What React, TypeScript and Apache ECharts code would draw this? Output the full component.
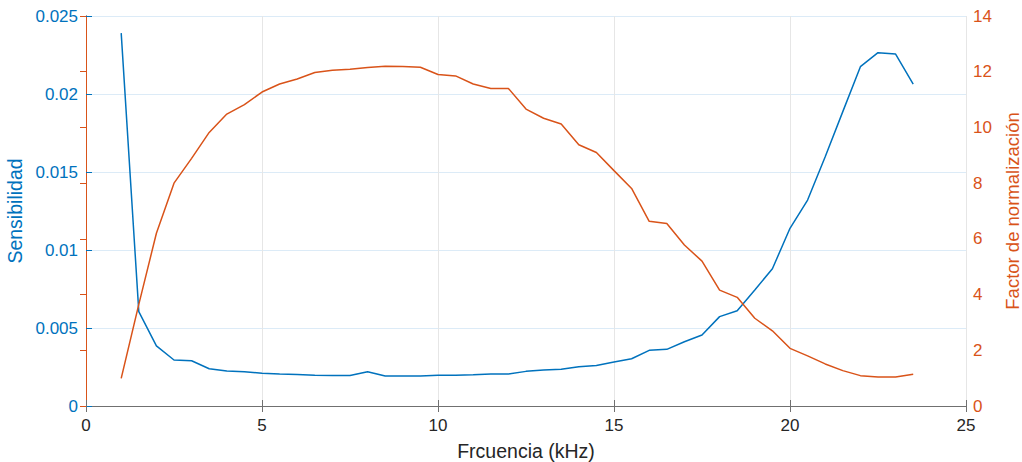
import React, { useEffect, useRef } from "react";
import * as echarts from "echarts";

const freq = [1, 1.5, 2, 2.5, 3, 3.5, 4, 4.5, 5, 5.5, 6, 6.5, 7, 7.5, 8, 8.5, 9, 9.5, 10, 10.5, 11, 11.5, 12, 12.5, 13, 13.5, 14, 14.5, 15, 15.5, 16, 16.5, 17, 17.5, 18, 18.5, 19, 19.5, 20, 20.5, 21, 21.5, 22, 22.5, 23, 23.5];

const sensibilidad = [0.0239, 0.00605, 0.00385, 0.00295, 0.0029, 0.00239, 0.00224, 0.0022, 0.0021, 0.00205, 0.00202, 0.00197, 0.00196, 0.00195, 0.0022, 0.00192, 0.00192, 0.00192, 0.00197, 0.00197, 0.002, 0.00205, 0.00205, 0.00222, 0.0023, 0.00235, 0.00252, 0.0026, 0.00282, 0.00303, 0.00357, 0.00363, 0.00412, 0.00455, 0.00573, 0.00611, 0.00744, 0.0088, 0.01139, 0.0132, 0.01598, 0.01887, 0.02175, 0.02265, 0.02256, 0.02064];

const factor = [0.99, 3.65, 6.2, 8.0, 8.89, 9.82, 10.48, 10.82, 11.27, 11.56, 11.74, 11.97, 12.05, 12.09, 12.15, 12.2, 12.19, 12.16, 11.9, 11.85, 11.56, 11.4, 11.4, 10.66, 10.33, 10.12, 9.38, 9.1, 8.45, 7.81, 6.63, 6.55, 5.78, 5.2, 4.16, 3.9, 3.15, 2.7, 2.07, 1.8, 1.51, 1.27, 1.09, 1.04, 1.04, 1.14];

const xTitle = "Frcuencia (kHz)";
const yLeftTitle = "Sensibilidad";
const yRightTitle = "Factor de normalización";

const BLUE = "#0072BD";
const ORANGE = "#D95319";
const FONT = "Liberation Sans";
const TICK_FS = 17;
const TITLE_FS = 19.5;

export default function App() {
  const ref = useRef<HTMLDivElement>(null);
  useEffect(() => {
    if (!ref.current) return;
    const chart = echarts.init(ref.current, null, { renderer: "svg" });
    chart.setOption({
      animation: false,
      backgroundColor: "#ffffff",
      grid: { left: 86, right: 56, top: 16, bottom: 56, containLabel: false, outerBoundsMode: "none" },
      xAxis: [
        {
          type: "value",
          min: 0,
          max: 25,
          interval: 5,
          name: xTitle,
          nameLocation: "middle",
          nameGap: 35,
          nameTextStyle: { color: "#262626", fontSize: TITLE_FS, fontFamily: FONT },
          axisLine: { show: true, lineStyle: { color: "#707070", width: 1 } },
          axisTick: { show: true, inside: true, length: 6, lineStyle: { color: "#707070" } },
          axisLabel: { color: "#262626", fontSize: TICK_FS, fontFamily: FONT, margin: 11 },
          splitLine: { show: true, lineStyle: { color: "#e6e6e6", width: 1 } },
        },
        {
          type: "value",
          position: "top",
          min: 0,
          max: 25,
          interval: 5,
          axisLine: { show: true, lineStyle: { color: "#707070", width: 1 } },
          axisTick: { show: true, inside: true, length: 6, lineStyle: { color: "#707070" } },
          axisLabel: { show: false },
          splitLine: { show: false },
        },
      ],
      yAxis: [
        {
          type: "value",
          position: "left",
          min: 0,
          max: 0.025,
          interval: 0.005,
          name: yLeftTitle,
          nameLocation: "middle",
          nameGap: 60,
          nameTextStyle: { color: BLUE, fontSize: TITLE_FS, fontFamily: FONT },
          axisLine: { show: true, lineStyle: { color: BLUE, width: 1 } },
          axisTick: { show: true, inside: true, length: 6, lineStyle: { color: BLUE } },
          axisLabel: { color: BLUE, fontSize: TICK_FS, fontFamily: FONT, margin: 8 },
          splitLine: { show: true, lineStyle: { color: "#dcebf7", width: 1 } },
        },
        {
          type: "value",
          position: "right",
          min: 0,
          max: 14,
          interval: 2,
          name: yRightTitle,
          nameLocation: "middle",
          nameGap: 33,
          nameRotate: 90,
          nameTextStyle: { color: ORANGE, fontSize: 18.5, fontFamily: FONT, lineHeight: 19 },
          axisLine: { show: true, lineStyle: { color: ORANGE, width: 1 } },
          axisTick: { show: true, inside: true, length: 6, lineStyle: { color: ORANGE } },
          axisLabel: { color: ORANGE, fontSize: TICK_FS, fontFamily: FONT, margin: 7 },
          splitLine: { show: false },
        },
      ],
      series: [
        {
          type: "line",
          name: yLeftTitle,
          xAxisIndex: 0,
          yAxisIndex: 0,
          data: freq.map((f, i) => [f, sensibilidad[i]]),
          showSymbol: false,
          lineStyle: { color: BLUE, width: 1.5 },
          itemStyle: { color: BLUE },
        },
        {
          type: "line",
          name: yRightTitle,
          xAxisIndex: 0,
          yAxisIndex: 1,
          data: freq.map((f, i) => [f, factor[i]]),
          showSymbol: false,
          lineStyle: { color: ORANGE, width: 1.5 },
          itemStyle: { color: ORANGE },
        },
      ],
    });
    return () => chart.dispose();
  }, []);
  return <div ref={ref} style={{ width: 1022, height: 462, position: "absolute", left: 0, top: 0 }} />;
}
